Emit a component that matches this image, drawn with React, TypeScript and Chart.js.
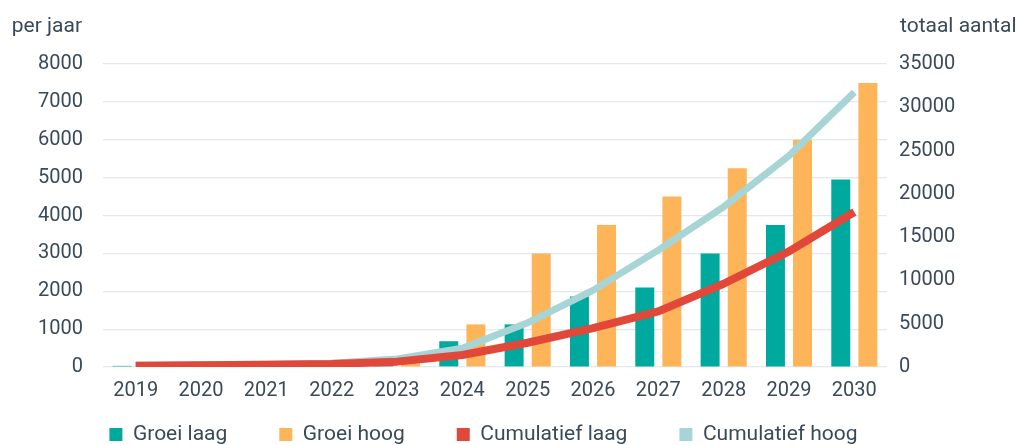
import React, { useEffect, useRef } from "react";
import { Chart, registerables } from "chart.js";

Chart.register(...registerables);

const categories = ["2019", "2020", "2021", "2022", "2023", "2024", "2025", "2026", "2027", "2028", "2029", "2030"];
const groeiLaag = [30, 50, 60, 70, 200, 680, 1125, 1860, 2100, 3000, 3750, 4950];
const groeiHoog = [0, 50, 70, 100, 300, 1125, 3000, 3750, 4500, 5250, 6000, 7500];
const cumulatiefLaag = [150, 200, 260, 340, 620, 1390, 2800, 4500, 6430, 9620, 13350, 17900];
const cumulatiefHoog = [200, 250, 320, 420, 920, 2160, 5100, 8850, 13500, 18500, 24400, 31750];
const leftTitle = "per jaar";
const rightTitle = "totaal aantal";

const TEXT = "#3b4a58";
const FONT = "Roboto";

const titlesPlugin = {
  id: "axisTitles",
  afterLayout(chart: any) {
    const lg = chart.legend;
    if (lg) {
      lg.top -= 30;
    }
  },
  afterDraw(chart: any) {
    const { ctx, chartArea } = chart;
    ctx.save();
    ctx.font = `21px ${FONT}`;
    ctx.fillStyle = TEXT;
    ctx.textBaseline = "alphabetic";
    ctx.textAlign = "right";
    ctx.fillText(leftTitle, chartArea.left - 21, 32);
    ctx.textAlign = "left";
    ctx.fillText(rightTitle, chartArea.right + 13, 32);
    ctx.restore();
  },
};

const plainTick = (v: any) => String(v);

export default function App() {
  const ref = useRef<HTMLCanvasElement>(null);
  useEffect(() => {
    document.body.style.margin = "0";
    Chart.defaults.font.family = FONT;
    Chart.defaults.font.size = 20;
    Chart.defaults.color = TEXT;
    const chart = new Chart(ref.current as HTMLCanvasElement, {
      type: "bar",
      data: {
        labels: categories,
        datasets: [
          { type: "bar", label: "Groei laag", data: groeiLaag, backgroundColor: "#00a99e", borderWidth: 0, yAxisID: "y", order: 1, categoryPercentage: 0.83, barPercentage: 0.7 } as any,
          { type: "bar", label: "Groei hoog", data: groeiHoog, backgroundColor: "#feb55a", borderWidth: 0, yAxisID: "y", order: 1, categoryPercentage: 0.83, barPercentage: 0.7 } as any,
          { type: "line", label: "Cumulatief laag", data: cumulatiefLaag, borderColor: "#e2483a", backgroundColor: "#e2483a", borderWidth: 8, pointRadius: 0, tension: 0, fill: false, yAxisID: "y1", order: 0, borderJoinStyle: "round" } as any,
          { type: "line", label: "Cumulatief hoog", data: cumulatiefHoog, borderColor: "#a7d5d6", backgroundColor: "#a7d5d6", borderWidth: 7, pointRadius: 0, tension: 0, fill: false, yAxisID: "y1", order: 0, borderJoinStyle: "round" } as any,
        ],
      },
      options: {
        responsive: false,
        animation: false,
        layout: { padding: { left: 0, right: 55, top: 64, bottom: 0 } },
        scales: {
          x: {
            grid: { display: false, drawTicks: false },
            border: { display: false },
            ticks: { padding: 12, maxRotation: 0, autoSkip: false, color: TEXT, font: { size: 20 } },
            afterFit: (s: any) => { s.height = 35; },
          },
          y: {
            position: "left",
            min: 0,
            max: 8000,
            ticks: { stepSize: 1000, padding: 20, color: TEXT, font: { size: 20 }, callback: plainTick },
            grid: { color: "#e3e8ed", lineWidth: 1.2, drawTicks: false },
            border: { display: false },
            afterFit: (s: any) => { s.width = 103; },
          },
          y1: {
            position: "right",
            min: 0,
            max: 35000,
            ticks: { stepSize: 5000, padding: 12, color: TEXT, font: { size: 20 }, callback: plainTick },
            grid: { display: false, drawTicks: false },
            border: { display: false },
            afterFit: (s: any) => { s.width = 80; },
          },
        },
        plugins: {
          tooltip: { enabled: false },
          legend: {
            position: "bottom",
            maxHeight: 43,
            labels: {
              boxWidth: 13,
              boxHeight: 13,
              padding: 52,
              color: TEXT,
              font: { size: 21 },
              sort: (a: any, b: any) => a.datasetIndex - b.datasetIndex,
              generateLabels: (c: any) =>
                Chart.defaults.plugins.legend.labels
                  .generateLabels(c)
                  .map((l: any) => ({ ...l, lineWidth: 0, strokeStyle: "rgba(0,0,0,0)" })),
            },
          } as any,
        },
      },
      plugins: [titlesPlugin],
    });
    return () => chart.destroy();
  }, []);
  return (
    <div style={{ width: 1022, height: 445 }}>
      <canvas ref={ref} width={1022} height={445} style={{ display: "block" }} />
    </div>
  );
}
